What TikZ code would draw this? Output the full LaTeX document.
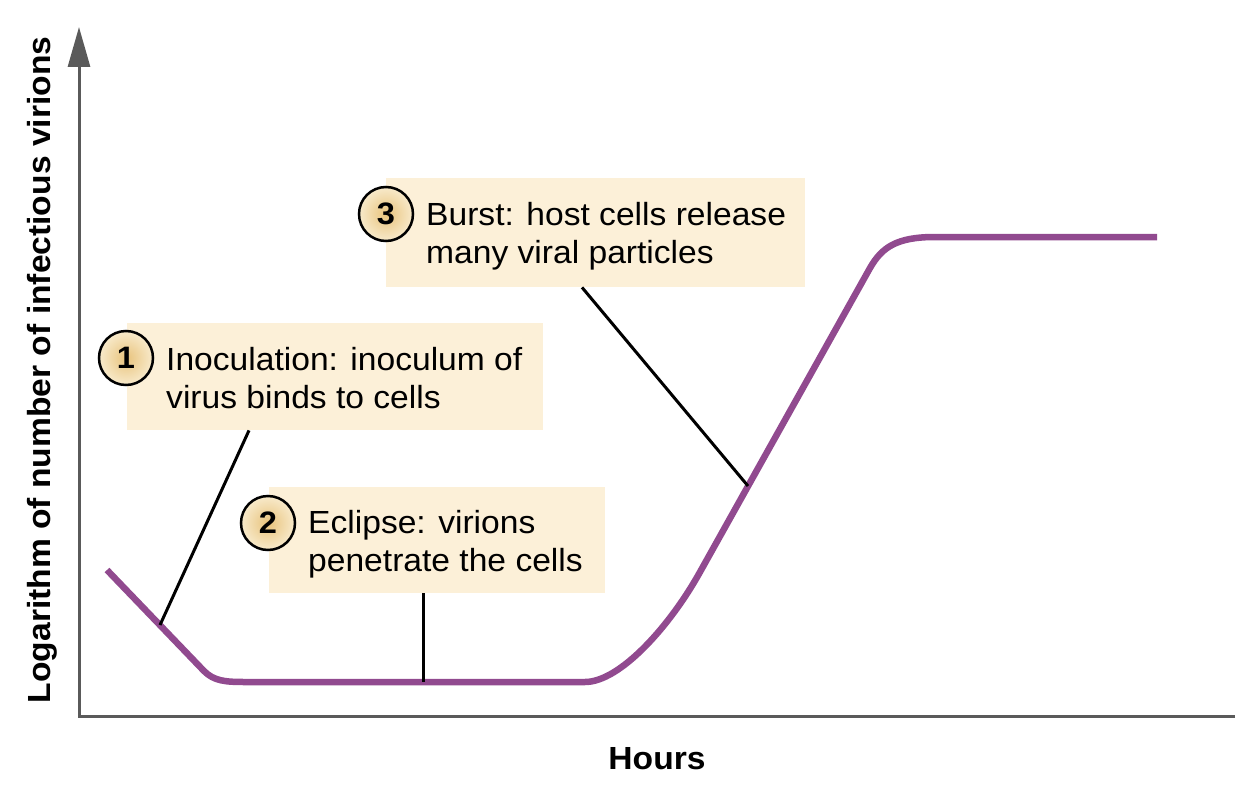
\documentclass[tikz,border=0pt]{standalone}
\usepackage{fontspec}
\setmainfont[FakeStretch=1.05]{Liberation Sans}
\usetikzlibrary{arrows.meta}
\definecolor{boxfill}{HTML}{FCF0D8}
\definecolor{curvecol}{HTML}{914A8F}
\definecolor{axisgray}{HTML}{5A5A5A}
\definecolor{badgein}{HTML}{E8C37C}
\definecolor{badgeout}{HTML}{F8EACB}
\begin{document}
\begin{tikzpicture}[x=1pt,y=-1pt,
  lbl/.style={anchor=base west, inner sep=0pt, font=\fontsize{32}{38}\selectfont},
  infobox/.style={fill=boxfill, draw=none, inner sep=0pt, anchor=north west},
  badge/.style={circle, draw=black, line width=2.5pt, inner color=badgein, outer color=badgeout,
    minimum size=54pt, inner sep=0pt, font=\bfseries\fontsize{31}{31}\selectfont},
  leader/.style={draw=black, line width=3pt},
  growth/.style={draw=curvecol, line width=6.5pt, line join=round},
  axis/.style={draw=axisgray, line width=3pt},
  axlabel/.style={inner sep=0pt, anchor=base, font=\bfseries\fontsize{32}{38}\selectfont}]
\useasboundingbox (0,0) rectangle (1250,792);

% axes
\coordinate (origin) at (79,716);
\coordinate (ytop) at (79,27);
\coordinate (xend) at (1235,716);
\draw[axis, -{Triangle[length=40pt,width=22pt]}] (xend) -- (origin) -- (ytop);
\node[axlabel] (xlab) at (657,769) {Hours};
\node[axlabel, rotate=90] (ylab) at (50,370) {Logarithm of number of infectious virions};

% boxes
\node[infobox, minimum width=416pt, minimum height=107pt] (box1) at (127,323) {};
\node[infobox, minimum width=336pt, minimum height=106pt] (box2) at (269,487) {};
\node[infobox, minimum width=419pt, minimum height=109pt] (box3) at (386,178) {};

% curve
\draw[growth] (107,570) -- (204,671) .. controls (214,681) and (225,682) .. (245,682)
  -- (585,682) .. controls (620,682) and (670,626) .. (700,572)
  -- (870,268) .. controls (882,247) and (897,237) .. (935,237) -- (1157,237);
\coordinate (c1) at (160,625);
\coordinate (c2) at (423,682);
\coordinate (c3) at (748,486);

% leaders
\coordinate (l1) at ([xshift=122pt]box1.south west);
\coordinate (l2) at ([xshift=154pt]box2.south west);
\coordinate (l3) at ([xshift=196pt]box3.south west);
\draw[leader] (l1) -- (c1);
\draw[leader] (l2) -- (c2);
\draw[leader] (l3) -- (c3);

% badges
\node[badge] (b1) at (126,358) {1};
\node[badge] (b2) at (268,523) {2};
\node[badge] (b3) at (386,214) {3};

% texts
\node[lbl] (t1a) at (166,370) {Inoculation: inoculum of};
\node[lbl] (t1b) at (166,408) {virus binds to cells};
\node[lbl] (t2a) at (308,533) {Eclipse: virions};
\node[lbl] (t2b) at (308,571) {penetrate the cells};
\node[lbl] (t3a) at (426,225) {Burst: host cells release};
\node[lbl] (t3b) at (426,263) {many viral particles};
\end{tikzpicture}
\end{document}
